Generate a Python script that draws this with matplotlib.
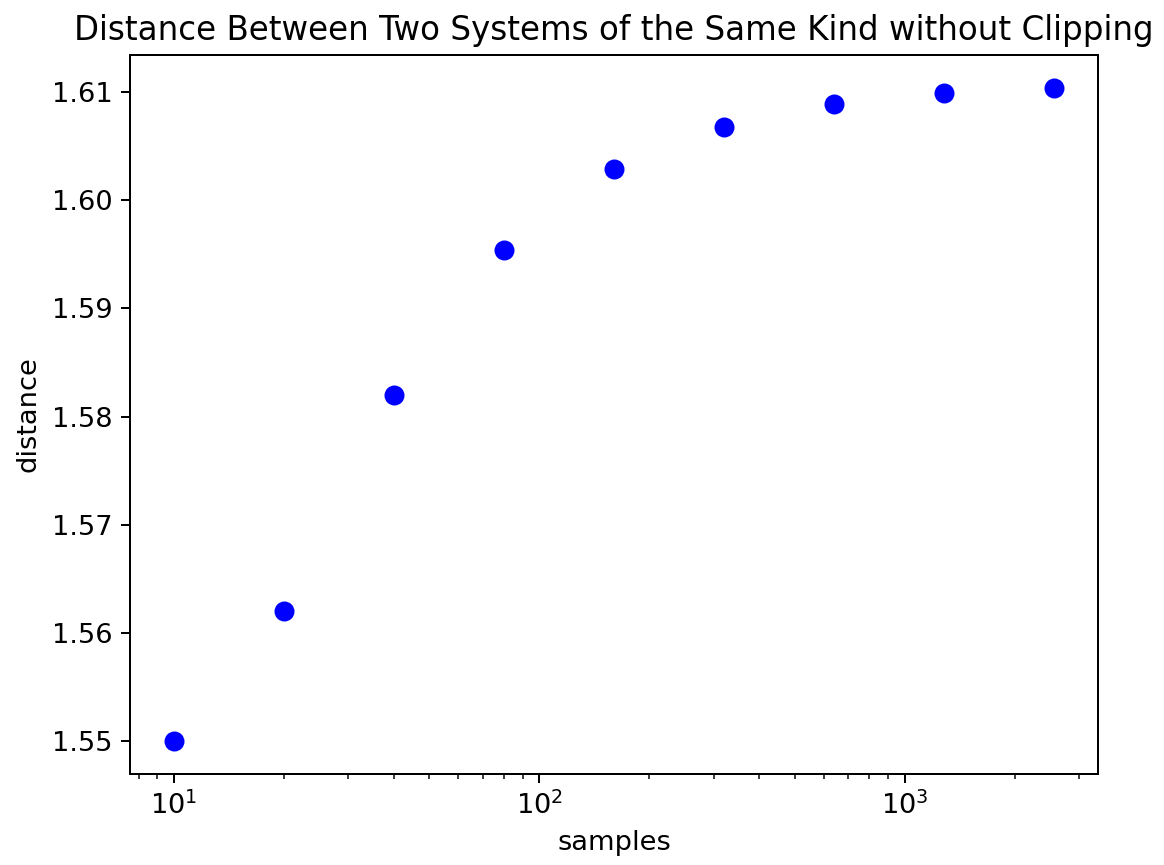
import matplotlib
matplotlib.use("Agg")
import matplotlib.pyplot as plt

samples = [10, 20, 40, 80, 160, 320, 640, 1280, 2560]
distance = [1.5500, 1.5620, 1.5820, 1.5954, 1.6029, 1.6068, 1.6089, 1.6099, 1.6104]

plt.rcParams['font.size'] = 10.9
fig = plt.figure(figsize=(1164/180, 865/180), dpi=180)
ax = fig.add_axes([130/1164, 1-774/865, (1098-130)/1164, (774-55)/865])
ax.plot(samples, distance, 'bo', markersize=7)
ax.set_xscale('log')
ax.set_xlabel('samples')
ax.set_ylabel('distance')
ax.set_title('Distance Between Two Systems of the Same Kind without Clipping', fontsize=13)
fig.savefig('out.png', dpi=180)
